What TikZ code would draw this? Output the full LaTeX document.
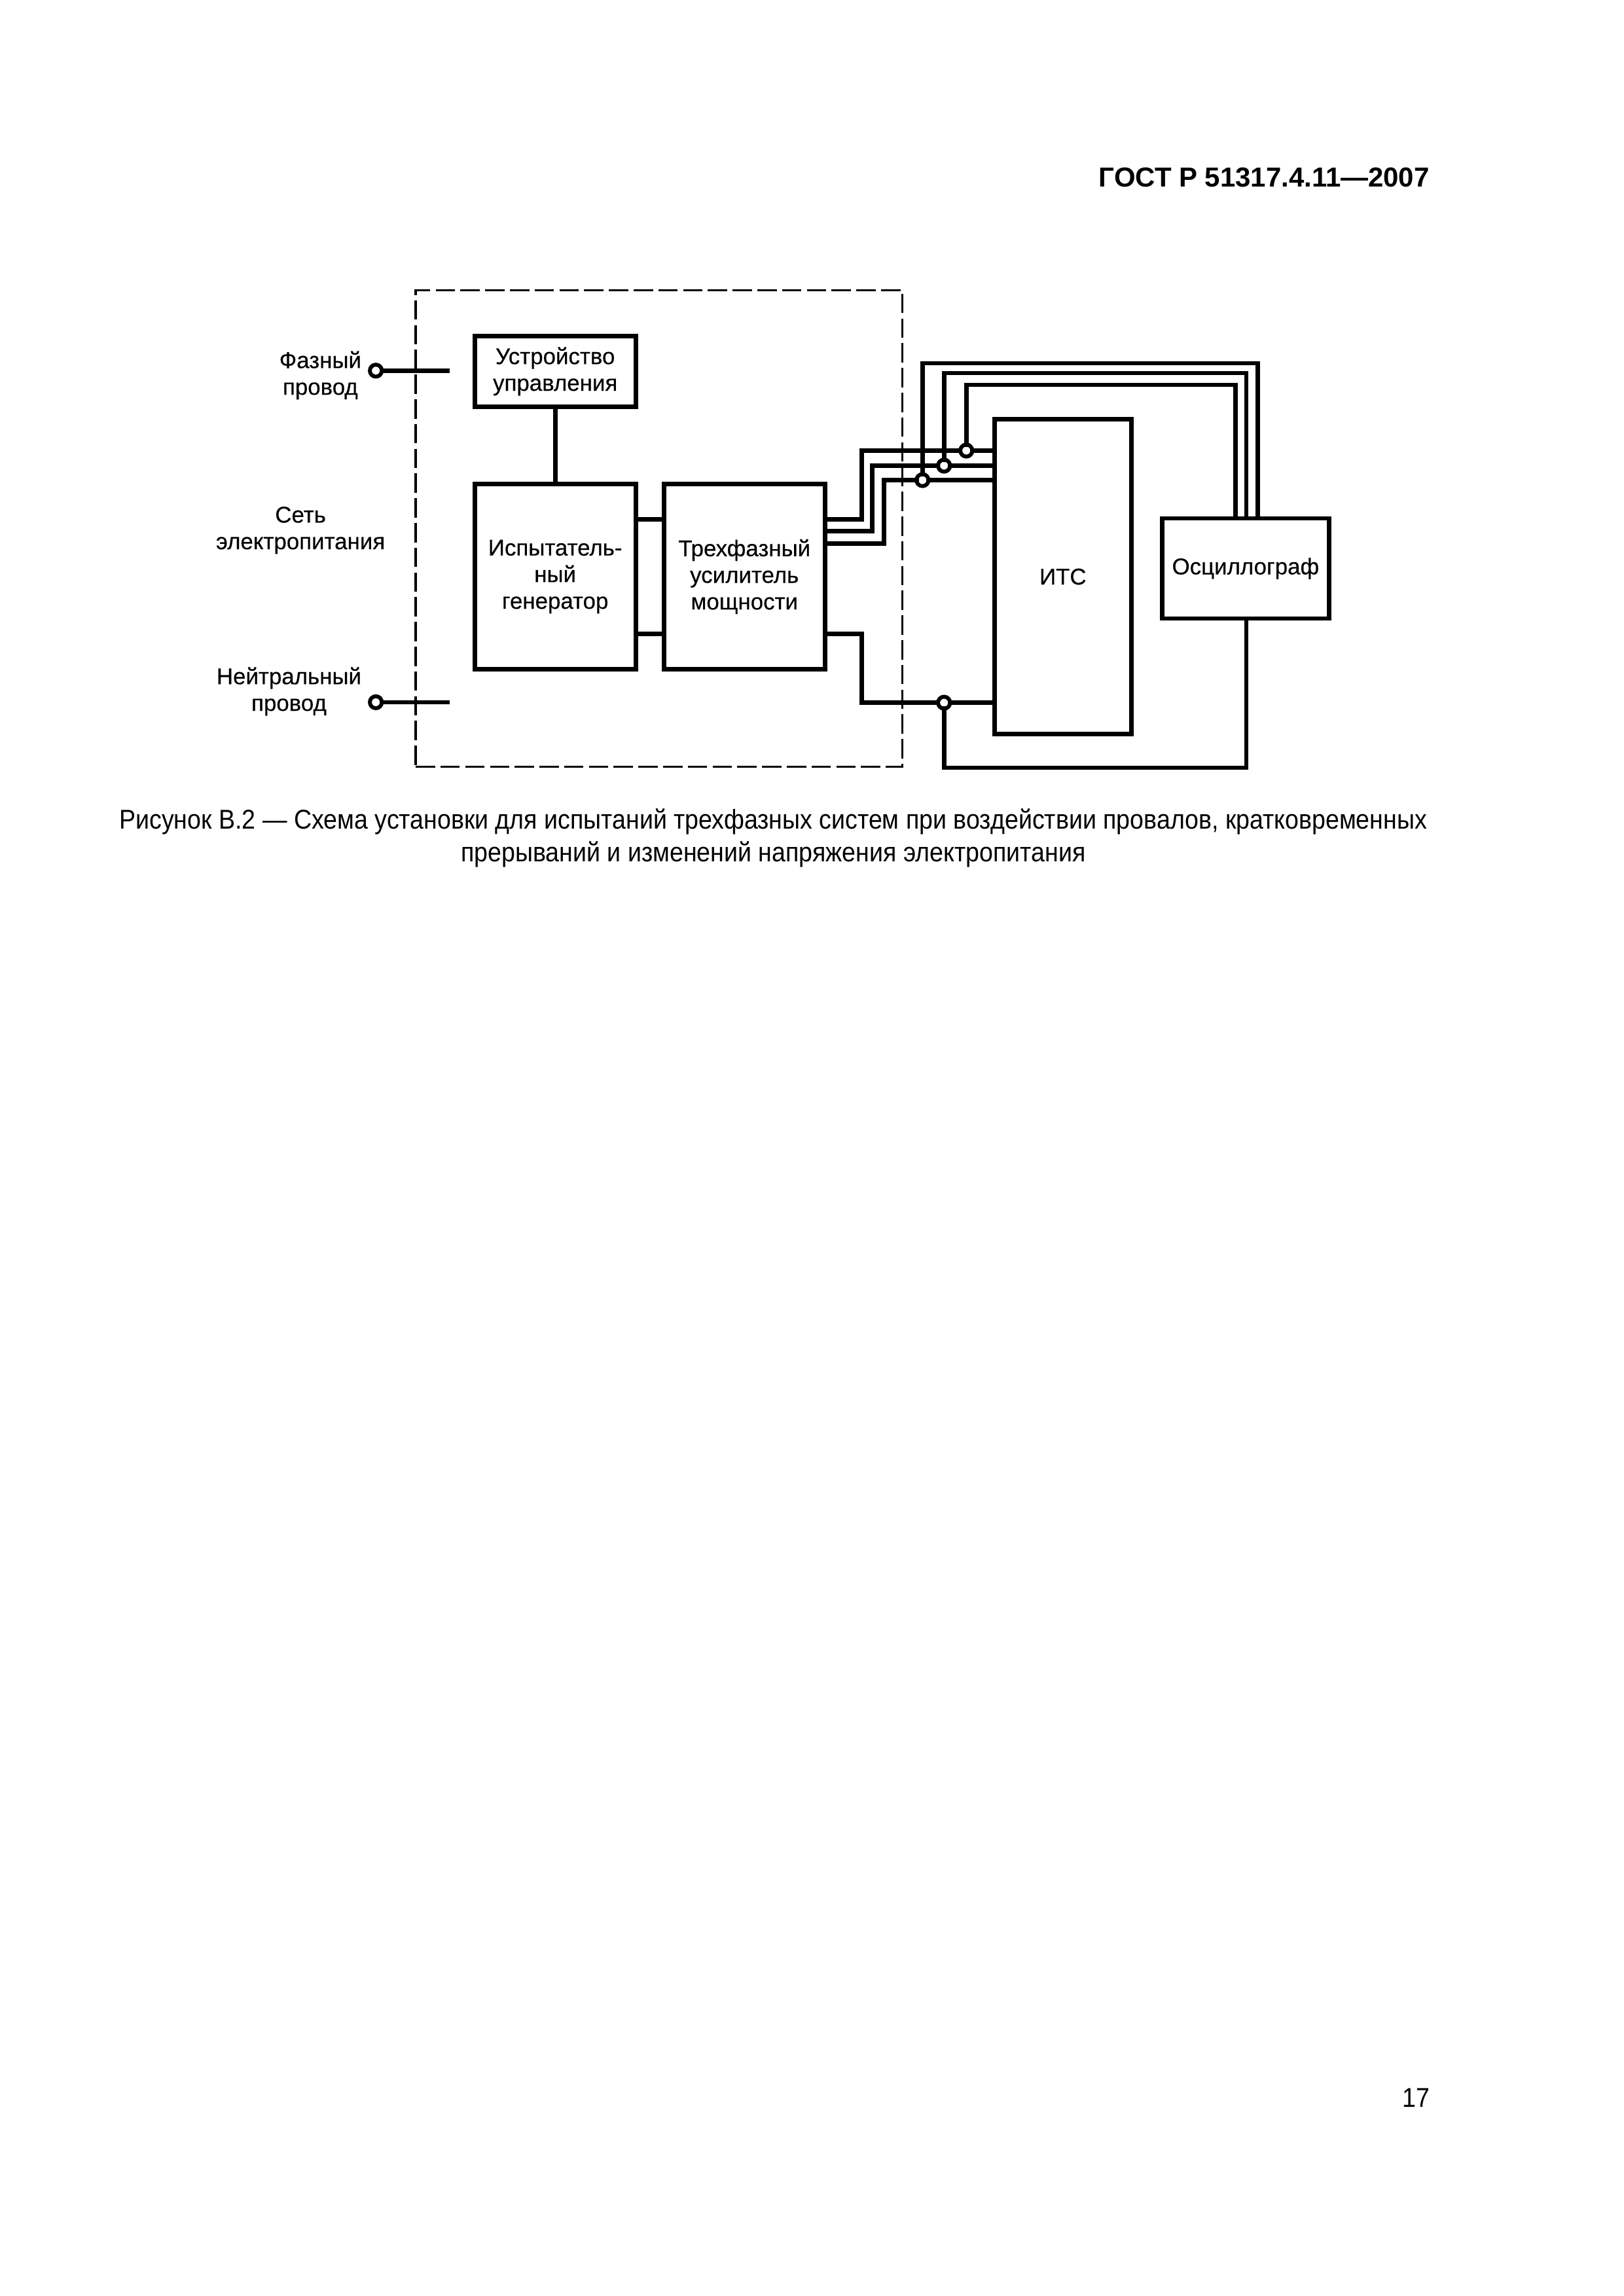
\documentclass[tikz,border=0pt]{standalone}
\usepackage{fontspec}
\setmainfont{Liberation Sans}
\newfontfamily\figfont[FakeBold=0.3]{Liberation Sans}
\newfontfamily\capfont[FakeStretch=0.905]{Liberation Sans}
\usetikzlibrary{positioning, calc}
\tikzset{
  blockbox/.style={rectangle, draw=black, line width=0.57mm, align=center,
    minimum width=2.083cm, outer sep=0pt, inner sep=0pt,
    font=\figfont\fontsize{8.4}{9.8}\selectfont},
  wire/.style={line width=0.57mm, line cap=rect},
  junc/.style={circle, draw=black, fill=white, line width=0.5mm,
    minimum size=0.155cm, inner sep=0pt, outer sep=0pt},
  lbl/.style={align=center, inner sep=0pt, outer sep=0pt,
    font=\figfont\fontsize{8.4}{9.8}\selectfont},
  dashbox/.style={rectangle, draw=black, line width=0.28mm,
    dash pattern=on 0.25cm off 0.07cm, outer sep=0pt}
}
\begin{document}
\begin{tikzpicture}[node distance=1cm and 0.364cm]
  \useasboundingbox (0,0) rectangle (21,29.7);

  % Page text
  \node[font=\fontsize{10.1}{12}\selectfont\bfseries, anchor=east, inner sep=0pt] (gost) at (18.494,27.405) {ГОСТ Р 51317.4.11—2007};
  \node[font=\capfont\fontsize{10}{11.9}\selectfont, align=center, inner sep=0pt] (caption) at (10.0,18.86) {Рисунок В.2 — Схема установки для испытаний трехфазных систем при воздействии провалов, кратковременных\\прерываний и изменений напряжения электропитания};
  \node[font=\capfont\fontsize{10}{12}\selectfont, anchor=east, inner sep=0pt] (pageno) at (18.5,2.56) {17};

  % Dashed enclosure
  \node[dashbox, minimum width=6.292cm, minimum height=6.165cm] (encl) at (8.523,22.864) {};

  % Blocks
  \node[blockbox, minimum height=0.915cm] (ctrl) at (7.181,24.896) {Устройство\\управления};
  \node[blockbox, minimum height=2.396cm, below=of ctrl] (gen) {Испытатель-\\ный\\генератор};
  \node[blockbox, minimum height=2.396cm, right=of gen] (amp) {Трехфазный\\усилитель\\мощности};
  \node[blockbox, minimum width=1.77cm, minimum height=4.073cm, right=2.193cm of amp] (its) {ИТС};
  \node[blockbox, minimum width=2.16cm, minimum height=1.296cm, right=0.398cm of its, yshift=0.106cm] (scope) {Осциллограф};

  % Mains terminals
  \node[junc] (phin) at (4.861,24.905) {};
  \node[junc] (neut) at (4.861,20.616) {};
  \coordinate (phend) at ($(phin)+(0.957,0)$);
  \coordinate (neend) at ($(neut)+(0.957,0)$);
  \draw[wire, line cap=butt] (phin) -- (phend);
  \draw[wire, line cap=butt] (neut) -- (neend);
  \node[lbl, left=0.11cm of phin, yshift=-0.06cm] (phlbl) {Фазный\\провод};
  \node[lbl] (mains) at (3.887,22.84) {Сеть\\электропитания};
  \node[lbl, left=0.11cm of neut, yshift=0.14cm] (nelbl) {Нейтральный\\провод};

  % Amplifier outputs
  \coordinate (oa) at ($(amp.north east)+(0,-0.457)$);
  \coordinate (ob) at ($(amp.north east)+(0,-0.61)$);
  \coordinate (oc) at ($(amp.north east)+(0,-0.771)$);
  \coordinate (od) at ($(amp.north east)+(0,-1.939)$);

  % Measuring points
  \node[junc] (ja) at ($(its.north west)+(-0.364,-0.406)$) {};
  \node[junc] (jb) at ($(its.north west)+(-0.652,-0.601)$) {};
  \node[junc] (jc) at ($(its.north west)+(-0.931,-0.788)$) {};
  \node[junc] (jn) at ($(its.south west)+(-0.652,0.406)$) {};

  % Scope leads
  \coordinate (ta) at ($(scope.north)+(-0.13,1.728)$);
  \coordinate (tb) at ($(scope.north)+(0.01,1.88)$);
  \coordinate (tc) at ($(scope.north)+(0.157,2.007)$);
  \coordinate (bt) at ($(scope.south)+(0.01,-1.93)$);

  % Arrows
  \draw[wire] (ctrl) -- (gen);
  \draw[wire] (gen.east |- oa) -- (amp.west |- oa);
  \draw[wire] (gen.east |- od) -- (amp.west |- od);
  \draw[wire] (oa) -- ++(0.474,0) |- (ja);
  \draw[wire] (ob) -- ++(0.61,0) |- (jb);
  \draw[wire] (oc) -- ++(0.762,0) |- (jc);
  \draw[wire] (od) -- ++(0.474,0) |- (jn);
  \draw[wire] (ja) -- (ja -| its.west);
  \draw[wire] (jb) -- (jb -| its.west);
  \draw[wire] (jc) -- (jc -| its.west);
  \draw[wire] (jn) -- (jn -| its.west);
  \draw[wire] (ja) |- (ta) -- (ta |- scope.north);
  \draw[wire] (jb) |- (tb) -- (tb |- scope.north);
  \draw[wire] (jc) |- (tc) -- (tc |- scope.north);
  \draw[wire] (jn) |- (bt) -- (bt |- scope.south);
\end{tikzpicture}
\end{document}
